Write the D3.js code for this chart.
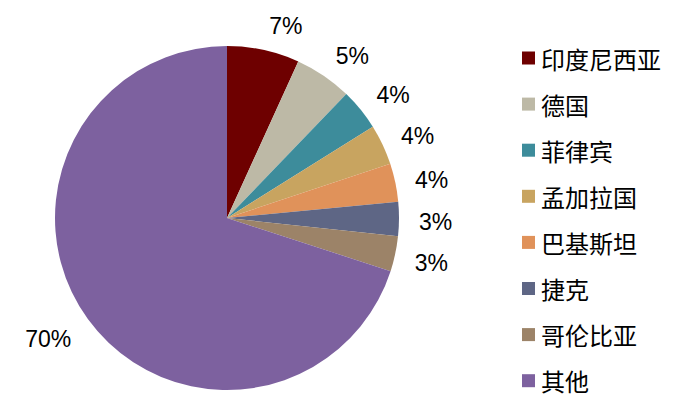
<!DOCTYPE html>
<html><head><meta charset="utf-8">
<script src="https://cdn.jsdelivr.net/npm/d3@7"></script>
<style>body{margin:0;background:#fff;}svg{display:block;}</style>
</head><body>
<svg id="c" width="700" height="415"></svg>
<script>
const categories = ["印度尼西亚","德国","菲律宾","孟加拉国","巴基斯坦","捷克","哥伦比亚","其他"];
const values = [6.8, 5.4, 3.9, 3.8, 3.6, 3.2, 3.3, 70.0];
const colors = ["#6E0000","#BDB9A6","#3D8C9B","#C8A460","#E0925A","#5E6685","#9C8368","#7D619F"];

const svg = d3.select("#c");
const cx = 227, cy = 218, r = 172;
const data = categories.map((c,i)=>({name:c, value:values[i], color:colors[i]}));
const pie = d3.pie().value(d=>d.value).sort(null);
const arcs = pie(data);
const arc = d3.arc().innerRadius(0).outerRadius(r);
const g = svg.append("g").attr("transform",`translate(${cx},${cy})`);
g.selectAll("path").data(arcs).join("path")
  .attr("d",arc).attr("fill",d=>d.data.color);

const fmt = v => Math.round(v) + "%";
const R = r + 18;
const labels = g.selectAll("text.lbl").data(arcs).join("text")
  .attr("class","lbl")
  .attr("font-family","'Liberation Sans', Arial, sans-serif")
  .attr("font-size",23)
  .attr("fill","#000")
  .attr("text-anchor","middle")
  .attr("dominant-baseline","central")
  .text(d=>fmt(d.data.value));
labels.each(function(d){
  const bb = this.getBBox();
  const a = (d.startAngle+d.endAngle)/2;
  const sx = Math.sin(a), sy = -Math.cos(a);
  const hw = bb.width/2, hh = 10;
  d3.select(this).attr("x", R*sx + (hw+2)*Math.sign(sx)).attr("y", (R+hh)*sy + 3);
});

const lg = svg.append("g").attr("transform","translate(522,58)");
const row = lg.selectAll("g").data(data).join("g")
  .attr("transform",(d,i)=>`translate(0,${i*46.1})`);
row.append("rect").attr("x",0).attr("y",-6.5).attr("width",13).attr("height",13).attr("fill",d=>d.color);
row.append("text").attr("x",19).attr("y",0)
  .attr("dominant-baseline","central")
  .attr("font-family","'Noto Sans CJK SC', sans-serif")
  .attr("font-size",24).attr("fill","#000")
  .text(d=>d.name);
</script>
</body></html>
